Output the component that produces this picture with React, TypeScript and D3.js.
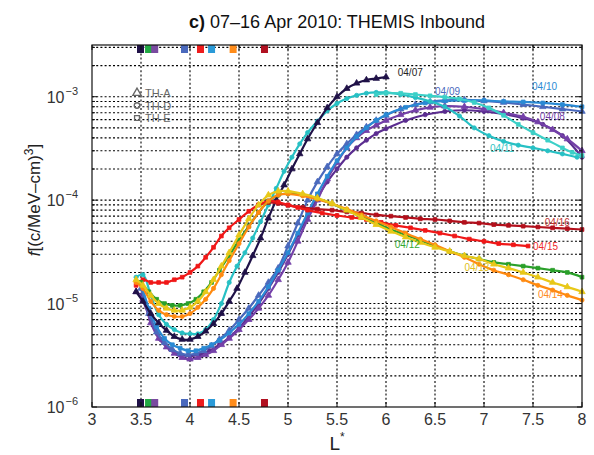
import React from 'react'
import * as d3 from 'd3'

// ---- data ----
const L07 = [3.45, 3.52, 3.6, 3.68, 3.76, 3.84, 3.92, 4.0, 4.08, 4.16, 4.24, 4.32, 4.4, 4.48, 4.56, 4.64, 4.72, 4.8, 4.88, 4.96, 5.04, 5.12, 5.2, 5.3, 5.4, 5.5, 5.6, 5.7, 5.8, 5.9, 6.0]
const F07 = [1.3e-5, 1.05e-5, 8e-6, 6.5e-6, 5.5e-6, 4.8e-6, 4.5e-6, 4.5e-6, 4.8e-6, 5.4e-6, 6.4e-6, 8e-6, 1.05e-5, 1.4e-5, 2.0e-5, 2.9e-5, 4.3e-5, 6.7e-5, 1.0e-4, 1.4e-4, 2.0e-4, 2.8e-4, 3.9e-4, 5.6e-4, 7.8e-4, 1.0e-3, 1.2e-3, 1.35e-3, 1.45e-3, 1.5e-3, 1.55e-3]

const L08 = [3.45, 3.52, 3.6, 3.68, 3.76, 3.84, 3.92, 4.0, 4.08, 4.16, 4.24, 4.32, 4.4, 4.5, 4.6, 4.7, 4.8, 4.9, 5.0, 5.1, 5.2, 5.3, 5.4, 5.5, 5.6, 5.7, 5.8, 5.9, 6.0, 6.15, 6.3, 6.45, 6.6, 6.8, 7.0, 7.2, 7.4, 7.55, 7.7, 7.85, 8.0]
const F08 = [1.3e-5, 1.1e-5, 6.5e-6, 4.6e-6, 3.8e-6, 3.3e-6, 3.0e-6, 2.9e-6, 3.0e-6, 3.2e-6, 3.5e-6, 4.0e-6, 4.6e-6, 5.6e-6, 7e-6, 9e-6, 1.2e-5, 1.7e-5, 2.5e-5, 4e-5, 6.5e-5, 1.0e-4, 1.6e-4, 2.3e-4, 3.2e-4, 4.0e-4, 4.7e-4, 5.3e-4, 5.9e-4, 6.7e-4, 7.4e-4, 7.9e-4, 8.1e-4, 8.0e-4, 7.6e-4, 7.0e-4, 6.4e-4, 5.7e-4, 4.8e-4, 3.9e-4, 3.0e-4]

const L08b = [3.5, 3.6, 3.7, 3.8, 3.9, 4.0, 4.1, 4.2, 4.3, 4.4, 4.5, 4.6, 4.7, 4.8, 4.9, 5.0, 5.1, 5.2, 5.3, 5.4, 5.5, 5.6, 5.7, 5.8, 5.9, 6.0, 6.2, 6.4, 6.6, 6.8, 7.0, 7.2, 7.4, 7.6, 7.8, 8.0]
const F08b = [1.2e-5, 7e-6, 4.5e-6, 3.6e-6, 3.2e-6, 3.1e-6, 3.2e-6, 3.5e-6, 4.0e-6, 4.7e-6, 5.8e-6, 7.5e-6, 1.0e-5, 1.4e-5, 2.0e-5, 3.0e-5, 4.6e-5, 7e-5, 1.05e-4, 1.5e-4, 2.0e-4, 2.6e-4, 3.2e-4, 3.8e-4, 4.4e-4, 4.9e-4, 5.9e-4, 6.7e-4, 7.2e-4, 7.4e-4, 7.2e-4, 6.8e-4, 6.2e-4, 5.4e-4, 4.2e-4, 2.6e-4]

const L09 = [3.5, 3.58, 3.66, 3.74, 3.82, 3.9, 3.98, 4.06, 4.14, 4.22, 4.3, 4.4, 4.5, 4.6, 4.7, 4.8, 4.9, 5.0, 5.1, 5.2, 5.3, 5.4, 5.5, 5.6, 5.7, 5.8, 5.9, 6.0, 6.15, 6.3, 6.45, 6.6, 6.8, 7.0, 7.2, 7.4, 7.6, 7.8, 8.0]
const F09 = [1.4e-5, 8e-6, 5.3e-6, 4.2e-6, 3.6e-6, 3.3e-6, 3.2e-6, 3.3e-6, 3.5e-6, 3.9e-6, 4.5e-6, 5.5e-6, 7e-6, 9e-6, 1.2e-5, 1.6e-5, 2.2e-5, 3.6e-5, 6e-5, 1.0e-4, 1.5e-4, 2.1e-4, 2.8e-4, 3.5e-4, 4.3e-4, 5.1e-4, 5.9e-4, 6.6e-4, 7.6e-4, 8.4e-4, 8.9e-4, 9.2e-4, 9.3e-4, 9.1e-4, 8.8e-4, 8.4e-4, 8.0e-4, 7.6e-4, 7.2e-4]

const L10 = [3.5, 3.58, 3.66, 3.74, 3.82, 3.9, 3.98, 4.06, 4.14, 4.22, 4.3, 4.4, 4.5, 4.6, 4.7, 4.8, 4.9, 5.0, 5.1, 5.2, 5.3, 5.4, 5.5, 5.6, 5.7, 5.8, 5.9, 6.0, 6.2, 6.4, 6.6, 6.8, 7.0, 7.2, 7.4, 7.6, 7.8, 8.0]
const F10 = [1.6e-5, 9e-6, 6e-6, 4.6e-6, 4.0e-6, 3.7e-6, 3.5e-6, 3.5e-6, 3.7e-6, 4.0e-6, 4.4e-6, 5.2e-6, 6.3e-6, 8e-6, 1.05e-5, 1.45e-5, 2.1e-5, 3.1e-5, 4.8e-5, 7.5e-5, 1.15e-4, 1.7e-4, 2.4e-4, 3.2e-4, 4.1e-4, 5e-4, 5.9e-4, 6.7e-4, 7.9e-4, 8.7e-4, 9.1e-4, 9.2e-4, 9.2e-4, 9.0e-4, 8.9e-4, 8.7e-4, 8.4e-4, 8.0e-4]

const L11 = [3.45, 3.52, 3.6, 3.68, 3.76, 3.84, 3.92, 4.0, 4.08, 4.16, 4.24, 4.32, 4.4, 4.48, 4.56, 4.64, 4.72, 4.8, 4.88, 4.96, 5.04, 5.12, 5.2, 5.3, 5.4, 5.5, 5.6, 5.7, 5.8, 5.9, 6.0, 6.15, 6.3, 6.45, 6.6, 6.75, 6.9, 7.05, 7.2, 7.35, 7.5, 7.65, 7.8, 7.95]
const F11 = [1.8e-5, 1.9e-5, 1.2e-5, 7.8e-6, 6.3e-6, 5.6e-6, 5.2e-6, 5.1e-6, 5.1e-6, 5.6e-6, 7e-6, 1.0e-5, 1.6e-5, 2.3e-5, 3.1e-5, 4.3e-5, 6.2e-5, 9e-5, 1.3e-4, 1.9e-4, 2.6e-4, 3.5e-4, 4.5e-4, 5.8e-4, 7.3e-4, 8.6e-4, 9.6e-4, 1.03e-3, 1.08e-3, 1.1e-3, 1.1e-3, 1.05e-3, 9.8e-4, 9.0e-4, 8.0e-4, 6.5e-4, 5.0e-4, 4.2e-4, 3.7e-4, 3.4e-4, 3.2e-4, 3.0e-4, 2.8e-4, 2.6e-4]

const L11b = [5.9, 6.0, 6.15, 6.3, 6.45, 6.6, 6.75, 6.9, 7.05, 7.2, 7.35, 7.5, 7.65, 7.8, 7.9, 8.0]
const F11b = [1.05e-3, 1.08e-3, 1.08e-3, 1.05e-3, 1.02e-3, 9.9e-4, 9.5e-4, 8.8e-4, 7.8e-4, 6.6e-4, 5.4e-4, 4.5e-4, 3.8e-4, 3.2e-4, 2.9e-4, 2.7e-4]

const L12 = [3.5, 3.58, 3.66, 3.74, 3.82, 3.9, 3.98, 4.06, 4.14, 4.22, 4.3, 4.4, 4.5, 4.6, 4.7, 4.8, 4.9, 5.0, 5.15, 5.3, 5.45, 5.6, 5.75, 5.9, 6.05, 6.2, 6.35, 6.5, 6.65, 6.8, 6.95, 7.1, 7.25, 7.4, 7.55, 7.7, 7.85, 8.0]
const F12 = [1.6e-5, 1.3e-5, 1.1e-5, 1.0e-5, 9.6e-6, 9.6e-6, 1.0e-5, 1.1e-5, 1.3e-5, 1.6e-5, 2.1e-5, 2.9e-5, 4.1e-5, 5.6e-5, 7.6e-5, 9.8e-5, 1.12e-4, 1.16e-4, 1.12e-4, 1.03e-4, 9.2e-5, 8.0e-5, 6.9e-5, 6.0e-5, 5.2e-5, 4.6e-5, 4.1e-5, 3.6e-5, 3.2e-5, 2.9e-5, 2.7e-5, 2.5e-5, 2.4e-5, 2.3e-5, 2.2e-5, 2.1e-5, 2.0e-5, 1.8e-5]

const L13 = [3.45, 3.52, 3.6, 3.68, 3.76, 3.84, 3.92, 4.0, 4.08, 4.16, 4.24, 4.32, 4.4, 4.5, 4.6, 4.7, 4.8, 4.9, 5.0, 5.15, 5.3, 5.45, 5.6, 5.75, 5.9, 6.05, 6.2, 6.35, 6.5, 6.65, 6.8, 6.95, 7.1, 7.25, 7.4, 7.55, 7.7, 7.85, 8.0]
const F13 = [1.7e-5, 1.5e-5, 1.2e-5, 1.0e-5, 9e-6, 8.6e-6, 8.6e-6, 9.2e-6, 1.05e-5, 1.3e-5, 1.7e-5, 2.3e-5, 3.1e-5, 4.6e-5, 6.6e-5, 9e-5, 1.12e-4, 1.22e-4, 1.22e-4, 1.15e-4, 1.05e-4, 9.3e-5, 8.0e-5, 6.8e-5, 5.8e-5, 5.0e-5, 4.4e-5, 3.9e-5, 3.5e-5, 3.2e-5, 2.9e-5, 2.7e-5, 2.4e-5, 2.2e-5, 2.0e-5, 1.8e-5, 1.6e-5, 1.45e-5, 1.3e-5]

const L14 = [3.45, 3.52, 3.6, 3.68, 3.76, 3.84, 3.92, 4.0, 4.08, 4.16, 4.24, 4.32, 4.4, 4.5, 4.6, 4.7, 4.8, 4.9, 5.0, 5.15, 5.3, 5.45, 5.6, 5.75, 5.9, 6.05, 6.2, 6.35, 6.5, 6.65, 6.8, 6.95, 7.1, 7.25, 7.4, 7.55, 7.7, 7.85, 8.0]
const F14 = [1.6e-5, 1.4e-5, 1.05e-5, 8.6e-6, 7.8e-6, 7.5e-6, 7.5e-6, 8.0e-6, 9.2e-6, 1.1e-5, 1.4e-5, 1.9e-5, 2.6e-5, 3.8e-5, 5.5e-5, 7.6e-5, 9.8e-5, 1.12e-4, 1.15e-4, 1.1e-4, 1.02e-4, 9.2e-5, 8.2e-5, 7.2e-5, 6.3e-5, 5.5e-5, 4.8e-5, 4.2e-5, 3.7e-5, 3.2e-5, 2.8e-5, 2.4e-5, 2.1e-5, 1.9e-5, 1.7e-5, 1.5e-5, 1.35e-5, 1.2e-5, 1.08e-5]

const L15 = [3.45, 3.52, 3.6, 3.68, 3.76, 3.84, 3.92, 4.0, 4.08, 4.16, 4.24, 4.32, 4.4, 4.5, 4.6, 4.7, 4.8, 4.9, 5.0, 5.1, 5.2, 5.35, 5.5, 5.65, 5.8, 5.95, 6.1, 6.25, 6.4, 6.55, 6.7, 6.85, 7.0, 7.15, 7.3, 7.45]
const F15 = [1.5e-5, 1.7e-5, 1.6e-5, 1.6e-5, 1.6e-5, 1.7e-5, 1.8e-5, 2.0e-5, 2.3e-5, 2.8e-5, 3.5e-5, 4.5e-5, 5.4e-5, 6.5e-5, 7.8e-5, 9e-5, 9.8e-5, 9.6e-5, 9.0e-5, 8.5e-5, 8.0e-5, 7.5e-5, 7.1e-5, 6.8e-5, 6.5e-5, 6.1e-5, 5.7e-5, 5.4e-5, 5.1e-5, 4.8e-5, 4.5e-5, 4.2e-5, 4.0e-5, 3.8e-5, 3.7e-5, 3.6e-5]

const L16 = [4.7, 4.8, 4.9, 5.0, 5.15, 5.3, 5.45, 5.6, 5.75, 5.9, 6.05, 6.2, 6.35, 6.5, 6.65, 6.8, 6.95, 7.1, 7.25, 7.4, 7.55, 7.7, 7.85, 8.0]
const F16 = [9e-5, 9.5e-5, 9.3e-5, 8.9e-5, 8.5e-5, 8.2e-5, 8.0e-5, 7.7e-5, 7.5e-5, 7.2e-5, 7.0e-5, 6.8e-5, 6.6e-5, 6.5e-5, 6.3e-5, 6.1e-5, 6.0e-5, 5.8e-5, 5.7e-5, 5.6e-5, 5.5e-5, 5.4e-5, 5.3e-5, 5.2e-5]

// coloured boxes on top and bottom axis
const boxL = [3.495, 3.577, 3.64, 3.944, 4.107, 4.22, 4.44, 4.76]
const boxColors = ['#1f1147', '#22aa44', '#7a4aa0', '#4a69bd', '#ee1c1c', '#2a9ad8', '#ff8c1a', '#b01020']

// date labels (data coordinates)
const labelText = ['04/07', '04/09', '04/10', '04/08', '04/11', '04/16', '04/15', '04/12', '04/13', '04/14']
const labelL = [6.12, 6.5, 7.49, 7.57, 7.06, 7.62, 7.5, 6.09, 6.8, 7.55]
const labelF = [1.6e-3, 1.05e-3, 1.17e-3, 5.9e-4, 2.9e-4, 5.6e-5, 3.3e-5, 3.46e-5, 2.07e-5, 1.13e-5]
const labelColors = ['#222222', '#4a69bd', '#2a8ad4', '#7440a8', '#30c4c4', '#c03030', '#f02a2a', '#33aa33', '#e0c020', '#ff8a20']

const xTicks = [3, 3.5, 4, 4.5, 5, 5.5, 6, 6.5, 7, 7.5, 8]
const yDecades = [-6, -5, -4, -3]
const legendNames = ['TH-A', 'TH-D', 'TH-E']

const series = [
  { L: L08b, f: F08b, color: '#5b2d90', mk: 'c' },
  { L: L08, f: F08, color: '#7440a8', mk: 't' },
  { L: L09, f: F09, color: '#4a69bd', mk: 't' },
  { L: L10, f: F10, color: '#2a8ad4', mk: 's' },
  { L: L11, f: F11, color: '#27c0c4', mk: 'c' },
  { L: L11b, f: F11b, color: '#3cd0c8', mk: 's' },
  { L: L07, f: F07, color: '#1f1147', mk: 't' },
  { L: L16, f: F16, color: '#b3101c', mk: 's' },
  { L: L15, f: F15, color: '#f01818', mk: 's' },
  { L: L12, f: F12, color: '#2aa02a', mk: 's' },
  { L: L14, f: F14, color: '#ff8a10', mk: 'c' },
  { L: L13, f: F13, color: '#e8c818', mk: 't' },
]

const W = 594, H = 455
const x0 = 92, x1 = 582, y0 = 407, y1 = 45

export default function App() {
  const x = d3.scaleLinear().domain([3, 8]).range([x0, x1])
  const y = d3.scaleLog().domain([1e-6, Math.pow(10, -2.5)]).range([y0, y1])
  const line = d3.line<[number, number]>().x(d => x(d[0])).y(d => y(d[1])).curve(d3.curveCatmullRom)

  const sym = (k: string) => {
    const t = k === 't' ? d3.symbolTriangle : k === 's' ? d3.symbolSquare : d3.symbolCircle
    return d3.symbol().type(t).size(k === 't' ? 18 : 14)() as string
  }

  // minor log grid
  const minorY: number[] = []
  yDecades.slice(0, 3).forEach(e => {
    for (let m = 1; m <= 9; m++) minorY.push(m * Math.pow(10, e))
  })
  for (let m = 1; m <= 3; m++) minorY.push(m * 1e-3)

  const font = 'Liberation Sans, Arial, Helvetica, sans-serif'

  return (
    <svg width={W} height={H} style={{ position: 'absolute', left: 0, top: 0, background: '#fff' }} fontFamily={font}>
      <rect x={0} y={0} width={W} height={H} fill="#fff" />
      {/* title */}
      <text x={337} y={28} textAnchor="middle" fontSize={18} fill="#111">
        <tspan fontWeight="bold">c)</tspan> 07–16 Apr 2010: THEMIS Inbound
      </text>

      {/* grid */}
      <g stroke="#000" strokeWidth={1.1} strokeDasharray="2,2.2" fill="none">
        {xTicks.slice(1, -1).map(t => (
          <line key={'gx' + t} x1={x(t)} x2={x(t)} y1={y1} y2={y0} />
        ))}
        {minorY.filter(v => v > 1e-6 * 1.01).map(v => (
          <line key={'gy' + v} x1={x0} x2={x1} y1={y(v)} y2={y(v)} />
        ))}
      </g>

      {/* curves */}
      {series.map((s, i) => {
        const pts = s.L.map((l, j) => [l, s.f[j]] as [number, number])
        const p = sym(s.mk)
        return (
          <g key={'s' + i}>
            <path d={line(pts) as string} fill="none" stroke={s.color} strokeWidth={2.2} />
            {pts.map((d, j) => (
              <path key={j} d={p} transform={`translate(${x(d[0])},${y(d[1])})`} fill={s.color} stroke={s.color} strokeWidth={0.8} />
            ))}
          </g>
        )
      })}

      {/* date labels */}
      {labelText.map((t, i) => (
        <text key={'lb' + i} x={x(labelL[i])} y={y(labelF[i])} fontSize={10} fill={labelColors[i]}>{t}</text>
      ))}

      {/* legend */}
      {legendNames.map((n, i) => (
        <g key={'lg' + n} transform={`translate(137,${93 + i * 12.5})`}>
          <path d={sym(['t', 'c', 's'][i])} fill="none" stroke="#666" strokeWidth={1} transform="scale(1.3)" />
          <text x={8} y={4} fontSize={11} fill="#666">{n}</text>
        </g>
      ))}

      {/* coloured boxes */}
      {boxL.map((b, i) => (
        <g key={'bx' + i}>
          <rect x={x(b) - 3.5} y={y1} width={7} height={8} fill={boxColors[i]} />
          <rect x={x(b) - 3.5} y={y0 - 8} width={7} height={8} fill={boxColors[i]} />
        </g>
      ))}

      {/* frame and ticks */}
      <rect x={x0} y={y1} width={x1 - x0} height={y0 - y1} fill="none" stroke="#111" strokeWidth={1.2} />
      {xTicks.map(t => (
        <g key={'xt' + t}>
          <line x1={x(t)} x2={x(t)} y1={y0} y2={y0 - 5} stroke="#111" />
          <line x1={x(t)} x2={x(t)} y1={y1} y2={y1 + 5} stroke="#111" />
          <text x={x(t)} y={425} textAnchor="middle" fontSize={16} fill="#333">{String(t)}</text>
        </g>
      ))}
      {minorY.map(v => (
        <g key={'yt' + v}>
          <line x1={x0} x2={x0 + (Number.isInteger(Math.log10(v)) ? 5 : 3)} y1={y(v)} y2={y(v)} stroke="#111" />
          <line x1={x1} x2={x1 - (Number.isInteger(Math.log10(v)) ? 5 : 3)} y1={y(v)} y2={y(v)} stroke="#111" />
        </g>
      ))}
      {yDecades.map(e => (
        <text key={'yl' + e} x={78} y={y(Math.pow(10, e)) + 6} textAnchor="end" fontSize={16} fill="#333">
          10<tspan dx={1} dy={-8} fontSize={11}>{'−' + Math.abs(e)}</tspan>
        </text>
      ))}
      {/* axis labels */}
      <text x={337} y={450} textAnchor="middle" fontSize={19} fill="#222">
        L<tspan dy={-9} fontSize={12}>*</tspan>
      </text>
      <text transform="translate(40,200) rotate(-90)" textAnchor="middle" fontSize={17} fill="#222">
        <tspan fontStyle="italic">f</tspan>[(c/MeV–cm)<tspan dy={-7} fontSize={12}>3</tspan><tspan dy={7}>]</tspan>
      </text>
    </svg>
  )
}
